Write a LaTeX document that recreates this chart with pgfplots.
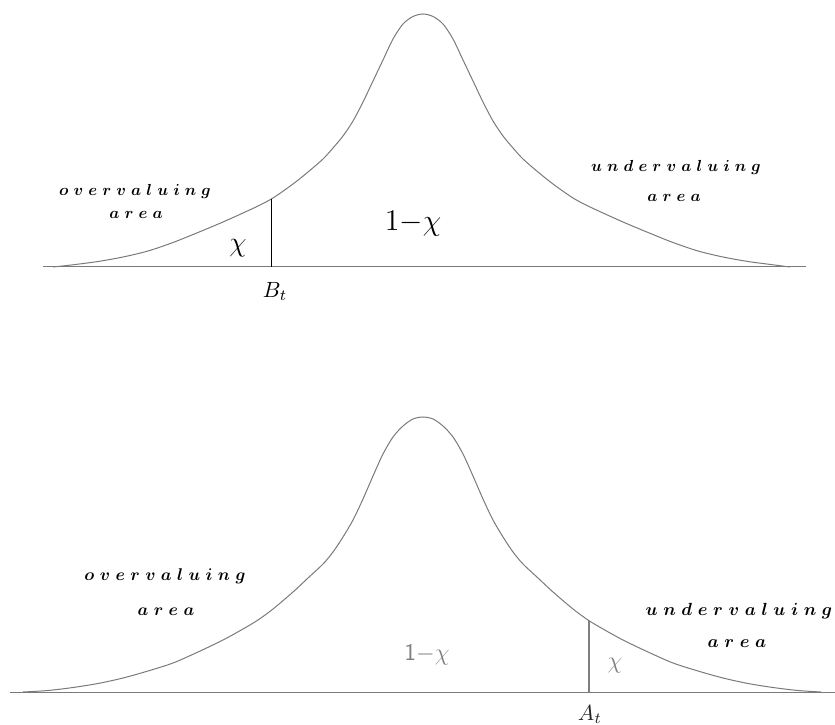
\RequirePackage{fix-cm}
\documentclass[border=0pt]{standalone}
\usepackage{amsmath}
\usepackage{xcolor}
\usepackage{tikz}
\usepackage{pgfplots}
\pgfplotsset{compat=1.18}

\definecolor{curvegray}{HTML}{7A7A7A}
\definecolor{textgray}{HTML}{7F7F7F}

% letter-spaced bold math italic labels
\newcommand{\spaced}[1]{{\boldmath$#1$}}

\begin{document}
\begin{tikzpicture}
\begin{axis}[
  x=0.5pt, y=0.5pt,
  xmin=0, xmax=835, ymin=0, ymax=724,
  hide axis,
  clip=false,
]
% top density (pixel coordinates, baseline at y=457)
\addplot[curvegray, line width=0.5pt, smooth] coordinates {
  (53,457)(73,459.2)(98,462.5)(123,467)(148,473)(173,481.5)(198,491.5)
  (223,502)(243,511)(258,518)(273,526)(293,540)(308,552)(323,565)
  (333,576)(343,588)(353,603)(363,622)(373,643)(383,664)(393,685)
  (403,700)(413,707.5)(423,710)(433,707.5)(443,700)(453,685)(463,664)
  (473,643)(483,622)(493,603)(503,588)(513,576)(523,565)(538,552)
  (553,540)(573,526)(588,518)(603,511)(623,502)(648,491.5)(673,481.5)
  (698,473)(723,467)(748,462.5)(773,459.2)(790,457)};
\addplot[curvegray, line width=0.5pt] coordinates {(43,457)(806,457)};
\addplot[black, line width=0.5pt] coordinates {(271,457)(271,525)};

% bottom density (baseline at y=32)
\addplot[curvegray, line width=0.5pt, smooth] coordinates {
  (23,32)(48,33.5)(73,36.5)(98,40.5)(123,46)(148,53)(173,61)(198,72)
  (223,84)(243,95)(258,104)(273,115)(293,132)(308,146)(323,160)
  (333,172)(343,187)(353,204)(363,225)(373,248)(383,270)(393,287)
  (403,298)(413,305)(423,307)(433,305)(443,298)(453,287)(463,270)
  (473,248)(483,225)(493,204)(503,187)(513,172)(523,160)(538,146)
  (553,132)(573,115)(588,104)(603,95)(623,84)(648,72)(673,61)
  (698,53)(723,46)(748,40.5)(773,36.5)(798,33.5)(821,32)};
\addplot[curvegray, line width=0.5pt] coordinates {(10,32)(835,32)};
\addplot[textgray, line width=1pt] coordinates {(589,32)(589,103)};

% top labels
\node[anchor=base, font=\fontsize{8}{10}\selectfont] at (axis cs:135,528)
  {\spaced{o\;v\;e\;r\;v\;a\;l\;u\;i\;n\;g}};
\node[anchor=base, font=\fontsize{8}{10}\selectfont] at (axis cs:136,505)
  {\spaced{a\;r\;e\;a}};
\node[anchor=base, font=\fontsize{8}{10}\selectfont] at (axis cs:676,552)
  {\spaced{u\;n\;d\;e\;r\;v\;a\;l\;u\;i\;n\;g}};
\node[anchor=base, font=\fontsize{8}{10}\selectfont] at (axis cs:674,522)
  {\spaced{a\;r\;e\;a}};
\node[anchor=base, font=\fontsize{14}{16}\selectfont] at (axis cs:238,472) {$\chi$};
\node[anchor=base, font=\fontsize{15}{18}\selectfont] at (axis cs:413,493) {$1{-}\chi$};
\node[anchor=north, inner sep=0pt, font=\fontsize{11}{13}\selectfont] at (axis cs:275,442) {$B_t$};

% bottom labels
\node[anchor=base, font=\fontsize{8.5}{10}\selectfont] at (axis cs:165,144)
  {\spaced{o\;v\;e\;r\;v\;a\;l\;u\;i\;n\;g}};
\node[anchor=base, font=\fontsize{8.5}{10}\selectfont] at (axis cs:166,109)
  {\spaced{a\;r\;e\;a}};
\node[anchor=base, font=\fontsize{8.8}{10}\selectfont] at (axis cs:739,109)
  {\spaced{u\;n\;d\;e\;r\;v\;a\;l\;u\;i\;n\;g}};
\node[anchor=base, font=\fontsize{8.8}{10}\selectfont] at (axis cs:737,77)
  {\spaced{a\;r\;e\;a}};
\node[anchor=base, text=textgray, font=\fontsize{12}{14}\selectfont] at (axis cs:427,64) {$\mathsf{1}{-}\chi$};
\node[anchor=base, text=textgray, font=\fontsize{12}{14}\selectfont] at (axis cs:615,56) {$\chi$};
\node[anchor=north, inner sep=0pt, text=black!85, font=\fontsize{11}{13}\selectfont] at (axis cs:590,19) {$A_t$};
\end{axis}
\pgfresetboundingbox
\path (0,0) rectangle (417.5pt,362pt);
\end{tikzpicture}
\end{document}
